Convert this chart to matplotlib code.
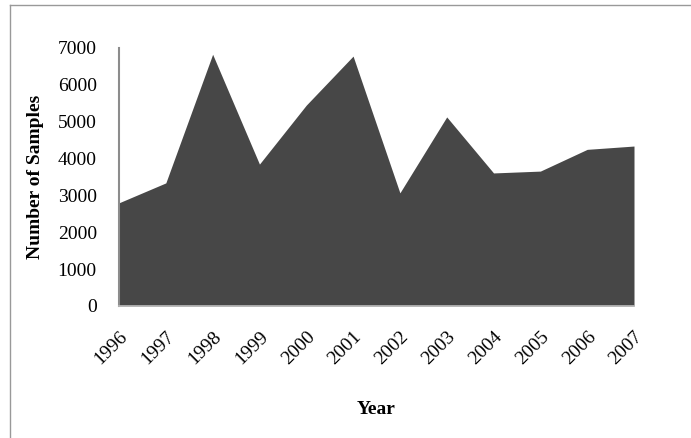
import numpy as np
import matplotlib.pyplot as plt
from matplotlib.lines import Line2D

# data
years = ['1996', '1997', '1998', '1999', '2000', '2001',
         '2002', '2003', '2004', '2005', '2006', '2007']
samples = [2800, 3340, 6830, 3850, 5450, 6780,
           3070, 5130, 3610, 3660, 4250, 4340]

plt.rcParams['font.family'] = ['Liberation Serif', 'DejaVu Serif']

fig = plt.figure(figsize=(6.91, 4.38), dpi=100)
ax = fig.add_axes([119/691, 1 - 306/438, 515/691, 258/438])

x = np.arange(len(years))
ax.fill_between(x, 0, samples, color='#474747', linewidth=0)

ax.set_xlim(0, len(years) - 1)
ax.set_ylim(0, 7000)
ax.set_yticks(range(0, 7001, 1000))
ax.set_xticks(x)
ax.set_xticklabels(years, rotation=45, ha='right', rotation_mode='anchor')

ax.tick_params(axis='both', length=0, labelsize=14, colors='black')
ax.tick_params(axis='y', pad=16)
ax.tick_params(axis='x', pad=16)

for s in ['top', 'right']:
    ax.spines[s].set_visible(False)
ax.spines['left'].set_color('#8c8c8c')
ax.spines['left'].set_linewidth(1.5)
ax.spines['bottom'].set_color('#bdbdbd')
ax.spines['bottom'].set_linewidth(1.2)

ax.set_ylabel('Number of Samples', fontsize=14, fontweight='bold', labelpad=10)
ax.set_xlabel('Year', fontsize=14, fontweight='bold', labelpad=24)

# outer frame lines (left and top only)
fig.add_artist(Line2D([10/691, 10/691], [0, 1 - 5/438], color='#999999', lw=1.0))
fig.add_artist(Line2D([10/691, 1], [1 - 5/438, 1 - 5/438], color='#999999', lw=1.0))

fig.savefig('out.png', dpi=100)
